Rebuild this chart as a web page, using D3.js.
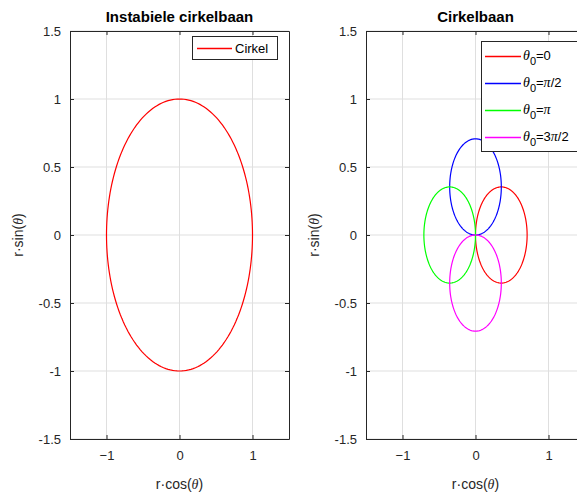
<!DOCTYPE html>
<html><head><meta charset="utf-8">
<script src="https://cdn.jsdelivr.net/npm/d3@7"></script>
<style>body{margin:0;background:#fff}svg{display:block}text{font-family:"Liberation Sans",Arial,sans-serif}</style>
</head><body>
<svg id="c" width="577" height="499"></svg>
<script>
const ticks = [-1.5,-1,-0.5,0,0.5,1,1.5];
const xticks = [-1,0,1];
const tickLabels = ["-1.5","-1","-0.5","0","0.5","1","1.5"];
const domain = [-1.5,1.5];
// left: unit circle
const bigCircle = {cx:0, cy:0, r:1};
// right: four circles r = (1/sqrt2) cos(theta - theta0)
const seriesNames = ["θ0=0","θ0=π/2","θ0=π","θ0=3π/2"];
const seriesColors = ["#ff0000","#0000ff","#00ff00","#ff00ff"];
const centersX = [0.3536, 0, -0.3536, 0];
const centersY = [0, 0.3536, 0, -0.3536];
const radii = [0.3536, 0.3536, 0.3536, 0.3536];
const legendLabels = [["0","=0"],["0","=π/2"],["0","=π"],["0","=3π/2"]];

const svg = d3.select("#c");
const axCol = "#262626";
function circlePts(c){const n=200;return d3.range(n+1).map(i=>{const a=2*Math.PI*i/n;return [c.cx+c.r*Math.cos(a), c.cy+c.r*Math.sin(a)];});}

function panel(x0, x1, title){
  const x = d3.scaleLinear().domain(domain).range([x0,x1]);
  const y = d3.scaleLinear().domain(domain).range([439,31]);
  const g = svg.append("g");
  g.selectAll(".gx").data(xticks).join("line").attr("x1",d=>x(d)).attr("x2",d=>x(d)).attr("y1",31).attr("y2",439).attr("stroke","#dfdfdf").attr("stroke-width",1);
  g.selectAll(".gy").data(ticks).join("line").attr("y1",d=>y(d)).attr("y2",d=>y(d)).attr("x1",x0).attr("x2",x1).attr("stroke","#dfdfdf").attr("stroke-width",1);
  return {x,y,g,title,x0,x1};
}
function finish(p){
  const {x,y,g,x0,x1} = p;
  const axL = g.append("g").attr("transform",`translate(${x0},0)`).call(d3.axisLeft(y).tickValues(ticks).tickFormat((d,i)=>tickLabels[i]).tickSizeInner(-4).tickSizeOuter(0).tickPadding(9));
  const axR = g.append("g").attr("transform",`translate(${x1},0)`).call(d3.axisRight(y).tickValues(ticks).tickFormat("").tickSizeInner(-4).tickSizeOuter(0));
  const axB = g.append("g").attr("transform",`translate(0,439)`).call(d3.axisBottom(x).tickValues(xticks).tickFormat(d3.format("d")).tickSizeInner(-4).tickSizeOuter(0).tickPadding(12));
  const axT = g.append("g").attr("transform",`translate(0,31)`).call(d3.axisTop(x).tickValues(xticks).tickFormat("").tickSizeInner(-4).tickSizeOuter(0));
  [axL,axR,axB,axT].forEach(a=>{a.select(".domain").attr("stroke",axCol);a.selectAll("line").attr("stroke",axCol);a.selectAll("text").attr("fill",axCol).attr("font-size",13).attr("font-family",'"Liberation Sans",Arial,sans-serif');});
  g.append("text").attr("x",(x0+x1)/2).attr("y",22).attr("text-anchor","middle").attr("font-weight","bold").attr("font-size",15).attr("fill","#000").text(p.title);
  const xl = g.append("text").attr("x",(x0+x1)/2).attr("y",489).attr("text-anchor","middle").attr("font-size",14).attr("fill",axCol);
  xl.append("tspan").text("r·cos(");xl.append("tspan").attr("font-style","italic").attr("font-family",'"Liberation Serif",serif').text("θ");xl.append("tspan").text(")");
  const yl = g.append("text").attr("transform",`translate(${x0-47},235) rotate(-90)`).attr("text-anchor","middle").attr("font-size",14).attr("fill",axCol);
  yl.append("tspan").text("r·sin(");yl.append("tspan").attr("font-style","italic").attr("font-family",'"Liberation Serif",serif').text("θ");yl.append("tspan").text(")");
}

const line = (p)=>d3.line().x(d=>p.x(d[0])).y(d=>p.y(d[1]));

// left
const L = panel(70,289,"Instabiele cirkelbaan");
L.g.append("path").attr("d",line(L)(circlePts(bigCircle))).attr("fill","none").attr("stroke","#ff0000").attr("stroke-width",1.2);
finish(L);
{
  const lg = svg.append("g");
  lg.append("rect").attr("x",192.5).attr("y",36.5).attr("width",85).attr("height",23).attr("fill","#fff").attr("stroke",axCol);
  lg.append("line").attr("x1",197).attr("x2",232).attr("y1",48.5).attr("y2",48.5).attr("stroke","#ff0000").attr("stroke-width",1.4);
  lg.append("text").attr("x",235).attr("y",53).attr("font-size",13).attr("fill","#000").text("Cirkel");
}

// right
const R = panel(366,585,"Cirkelbaan");
seriesNames.forEach((n,i)=>{
  R.g.append("path").attr("d",line(R)(circlePts({cx:centersX[i],cy:centersY[i],r:radii[i]}))).attr("fill","none").attr("stroke",seriesColors[i]).attr("stroke-width",1.2);
});
finish(R);
{
  const lg = svg.append("g");
  lg.append("rect").attr("x",481.5).attr("y",41.5).attr("width",110).attr("height",110).attr("fill","#fff").attr("stroke",axCol);
  const ys = [56.5, 83.5, 110.5, 137.5];
  legendLabels.forEach((lab,i)=>{
    const yy = ys[i];
    lg.append("line").attr("x1",485).attr("x2",521).attr("y1",yy).attr("y2",yy).attr("stroke",seriesColors[i]).attr("stroke-width",1.4);
    const t = lg.append("text").attr("x",523).attr("y",yy+3.5).attr("font-size",13).attr("fill","#000");
    t.append("tspan").attr("font-style","italic").attr("font-family",'"Liberation Serif",serif').attr("font-size",14).text("θ");
    t.append("tspan").attr("font-size",11).attr("dy",5).text(lab[0]);
    t.append("tspan").attr("dy",-5).text(lab[1].slice(0,1));
    lab[1].slice(1).split("").forEach(ch=>{
      if(ch==="π") t.append("tspan").attr("font-style","italic").attr("font-family",'"Liberation Serif",serif').attr("font-size",14).text("π");
      else t.append("tspan").text(ch);
    });
  });
}
</script>
</body></html>
